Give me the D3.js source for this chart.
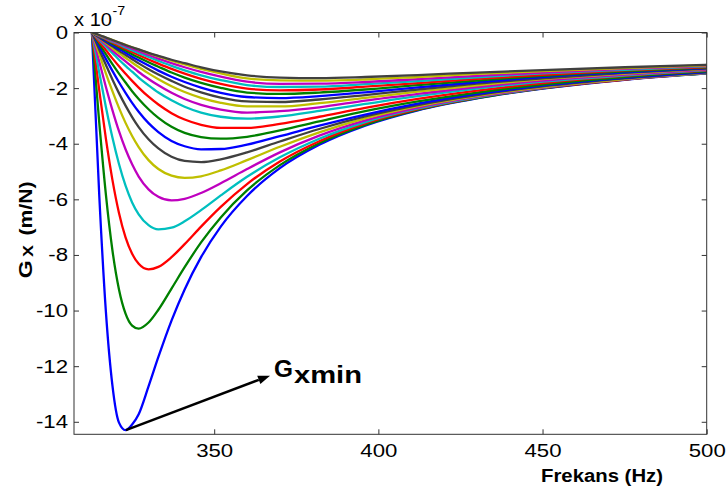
<!DOCTYPE html>
<html><head><meta charset="utf-8">
<script src="https://cdn.jsdelivr.net/npm/d3@7"></script>
<style>html,body{margin:0;padding:0;background:#fff;overflow:hidden}text{font-family:"Liberation Sans",Arial,sans-serif;fill:#000}</style>
</head><body><svg id="chart" width="727" height="491"></svg>
<script>
// Frequency samples (Hz)
const freq = [312.75, 315, 317, 319, 321, 323, 325, 327, 330, 333, 337, 341, 346, 352, 360, 370, 382, 396, 412, 430, 450, 475, 500];
// Gx values (x 1e-7 m/N), one array per curve, deepest first
const c01 = [0, -5.88, -10.02, -12.69, -14.03, -14.30, -14.10, -13.73, -12.73, -11.67, -10.36, -9.24, -8.08, -6.98, -5.88, -4.88, -4.04, -3.35, -2.80, -2.37, -2.02, -1.70, -1.47];
const c02 = [0, -3.25, -5.81, -7.83, -9.24, -10.11, -10.54, -10.65, -10.43, -9.97, -9.21, -8.44, -7.55, -6.65, -5.68, -4.77, -3.98, -3.32, -2.78, -2.36, -2.01, -1.69, -1.47];
const c03 = [0, -2.09, -3.81, -5.30, -6.49, -7.37, -7.96, -8.32, -8.52, -8.43, -8.08, -7.61, -6.98, -6.27, -5.45, -4.64, -3.91, -3.27, -2.76, -2.34, -2.00, -1.69, -1.46];
const c04 = [0, -1.45, -2.67, -3.78, -4.73, -5.51, -6.11, -6.54, -6.93, -7.08, -7.02, -6.79, -6.39, -5.86, -5.19, -4.49, -3.82, -3.22, -2.73, -2.33, -1.99, -1.68, -1.46];
const c05 = [0, -1.05, -1.95, -2.79, -3.55, -4.20, -4.74, -5.18, -5.64, -5.91, -6.04, -5.98, -5.77, -5.42, -4.91, -4.31, -3.71, -3.16, -2.70, -2.31, -1.98, -1.68, -1.45];
const c06 = [0, -0.78, -1.47, -2.11, -2.71, -3.25, -3.72, -4.12, -4.59, -4.91, -5.15, -5.23, -5.17, -4.96, -4.59, -4.11, -3.59, -3.09, -2.65, -2.28, -1.96, -1.67, -1.44];
const c07 = [0, -0.62, -1.16, -1.69, -2.18, -2.63, -3.04, -3.40, -3.84, -4.17, -4.47, -4.62, -4.66, -4.56, -4.31, -3.92, -3.47, -3.02, -2.61, -2.25, -1.94, -1.65, -1.43];
const c08 = [0, -0.50, -0.95, -1.38, -1.79, -2.17, -2.53, -2.85, -3.26, -3.58, -3.90, -4.09, -4.20, -4.19, -4.03, -3.73, -3.35, -2.95, -2.56, -2.21, -1.91, -1.63, -1.42];
const c09 = [0, -0.41, -0.78, -1.14, -1.48, -1.80, -2.11, -2.39, -2.76, -3.07, -3.39, -3.61, -3.76, -3.82, -3.75, -3.52, -3.20, -2.83, -2.48, -2.16, -1.87, -1.60, -1.40];
const c10 = [0, -0.34, -0.63, -0.93, -1.21, -1.48, -1.74, -1.98, -2.31, -2.59, -2.90, -3.13, -3.32, -3.43, -3.43, -3.29, -3.03, -2.71, -2.39, -2.09, -1.82, -1.56, -1.37];
const c11 = [0, -0.27, -0.51, -0.74, -0.98, -1.20, -1.41, -1.62, -1.90, -2.16, -2.44, -2.67, -2.88, -3.03, -3.10, -3.02, -2.82, -2.57, -2.29, -2.02, -1.77, -1.54, -1.35];
const c12 = [0, -0.23, -0.44, -0.65, -0.85, -1.04, -1.23, -1.42, -1.67, -1.90, -2.17, -2.39, -2.60, -2.77, -2.88, -2.83, -2.69, -2.45, -2.21, -1.96, -1.73, -1.51, -1.33];
const c13 = [0, -0.20, -0.38, -0.56, -0.74, -0.91, -1.08, -1.24, -1.47, -1.68, -1.93, -2.14, -2.35, -2.53, -2.66, -2.66, -2.54, -2.35, -2.13, -1.90, -1.68, -1.48, -1.31];
const c14 = [0, -0.18, -0.34, -0.50, -0.66, -0.81, -0.96, -1.11, -1.32, -1.51, -1.74, -1.95, -2.15, -2.34, -2.48, -2.50, -2.41, -2.25, -2.05, -1.84, -1.65, -1.45, -1.30];
const c15 = [0, -0.16, -0.31, -0.45, -0.59, -0.73, -0.87, -1.00, -1.19, -1.37, -1.59, -1.78, -1.98, -2.17, -2.32, -2.36, -2.29, -2.15, -1.97, -1.79, -1.60, -1.43, -1.28];
const c16 = [0, -0.14, -0.27, -0.40, -0.53, -0.65, -0.78, -0.90, -1.07, -1.23, -1.44, -1.62, -1.81, -1.99, -2.16, -2.21, -2.16, -2.05, -1.89, -1.73, -1.56, -1.40, -1.26];
const c17 = [0, -0.13, -0.25, -0.36, -0.48, -0.59, -0.70, -0.81, -0.97, -1.12, -1.31, -1.48, -1.67, -1.85, -2.02, -2.08, -2.05, -1.95, -1.82, -1.67, -1.52, -1.36, -1.24];
const c18 = [0, -0.12, -0.22, -0.33, -0.43, -0.54, -0.64, -0.74, -0.88, -1.02, -1.20, -1.36, -1.54, -1.71, -1.89, -1.96, -1.95, -1.86, -1.75, -1.61, -1.47, -1.34, -1.22];
const c19 = [0, -0.11, -0.20, -0.30, -0.39, -0.49, -0.58, -0.67, -0.81, -0.94, -1.10, -1.25, -1.42, -1.59, -1.77, -1.85, -1.84, -1.78, -1.68, -1.56, -1.44, -1.31, -1.20];
const c20 = [0, -0.10, -0.18, -0.27, -0.36, -0.44, -0.53, -0.61, -0.74, -0.86, -1.01, -1.15, -1.31, -1.47, -1.65, -1.72, -1.73, -1.69, -1.60, -1.49, -1.39, -1.28, -1.18];
const c21 = [0, -0.09, -0.18, -0.27, -0.36, -0.45, -0.53, -0.61, -0.73, -0.84, -0.98, -1.10, -1.25, -1.40, -1.54, -1.62, -1.64, -1.60, -1.53, -1.44, -1.35, -1.25, -1.16];
const series = [c01, c02, c03, c04, c05, c06, c07, c08, c09, c10, c11, c12, c13, c14, c15, c16, c17, c18, c19, c20, c21];
const colors = ["#0000ff", "#008000", "#ff0000", "#00bfbf", "#bf00bf", "#bfbf00", "#404040"];
const xTicks = [350, 400, 450, 500];
const yTicks = [0, -2, -4, -6, -8, -10, -12, -14];
const xDomain = [307.3, 500];
const yDomain = [-14.45, 0];
const arrowFrom = [323.1, -14.3];
const arrowTo = [367.0, -12.34];

const svg = d3.select("#chart");
const M = {l: 74, r: 706.7, t: 32.5, b: 434.3};
const x = d3.scaleLinear().domain(xDomain).range([M.l, M.r]);
const y = d3.scaleLinear().domain(yDomain).range([M.b, M.t]);
const FS = 18.5, SX = 1.2;

svg.append("rect").attr("width", 727).attr("height", 491).attr("fill", "#fff");

svg.append("clipPath").attr("id", "clip").append("rect")
  .attr("x", M.l).attr("y", M.t).attr("width", M.r - M.l).attr("height", M.b - M.t);

// curves
const line = d3.line().x((d, i) => x(freq[i])).y(d => y(d)).curve(d3.curveMonotoneX);
svg.append("g").attr("clip-path", "url(#clip)")
  .selectAll("path").data(series).join("path")
  .attr("d", line).attr("fill", "none")
  .attr("stroke", (d, i) => colors[i % colors.length])
  .attr("stroke-width", 2.3).attr("stroke-linejoin", "round");

// axes
const fmt = d => String(d);
const gB = svg.append("g").attr("transform", `translate(0,${M.b})`)
  .call(d3.axisBottom(x).tickValues(xTicks).tickSizeInner(-5).tickSizeOuter(0).tickPadding(10).tickFormat(fmt));
const gL = svg.append("g").attr("transform", `translate(${M.l},0)`)
  .call(d3.axisLeft(y).tickValues(yTicks).tickSizeInner(-5).tickSizeOuter(0).tickPadding(5).tickFormat(fmt));
const gT = svg.append("g").attr("transform", `translate(0,${M.t})`)
  .call(d3.axisTop(x).tickValues(xTicks).tickSizeInner(-5).tickSizeOuter(0).tickFormat(""));
const gR = svg.append("g").attr("transform", `translate(${M.r},0)`)
  .call(d3.axisRight(y).tickValues(yTicks).tickSizeInner(-5).tickSizeOuter(0).tickFormat(""));
[gB, gL, gT, gR].forEach(g => {
  g.select(".domain").remove();
  g.selectAll(".tick line").attr("stroke", "#333");
  g.selectAll(".tick text").attr("font-size", FS).attr("fill", "#000")
    .attr("font-family", "Liberation Sans, Arial, sans-serif")
    .attr("transform", `scale(${SX},1)`);
});
svg.append("rect").attr("x", M.l).attr("y", M.t).attr("width", M.r - M.l).attr("height", M.b - M.t)
  .attr("fill", "none").attr("stroke", "#333").attr("stroke-width", 1);

// exponent label
svg.append("text").attr("x", M.l).attr("y", 26).attr("font-size", 18)
  .attr("textLength", 38).attr("lengthAdjust", "spacingAndGlyphs").text("x 10");
svg.append("text").attr("x", 112.5).attr("y", 15).attr("font-size", 13)
  .attr("textLength", 12.7).attr("lengthAdjust", "spacingAndGlyphs").text("-7");

// y label
const yl = svg.append("g").attr("transform", "translate(31.5,0) rotate(-90)").attr("font-weight", "bold");
yl.append("text").attr("x", -278.3).attr("y", 0).attr("font-size", 19)
  .attr("textLength", 18).attr("lengthAdjust", "spacingAndGlyphs").text("G");
yl.append("text").attr("x", -257).attr("y", 1.5).attr("font-size", 14)
  .attr("textLength", 12).attr("lengthAdjust", "spacingAndGlyphs").text("X");
yl.append("text").attr("x", -235.5).attr("y", 0).attr("font-size", 19)
  .attr("textLength", 54).attr("lengthAdjust", "spacingAndGlyphs").text("(m/N)");

// x label
svg.append("text").attr("x", 541).attr("y", 482).attr("font-size", 18).attr("font-weight", "bold")
  .attr("textLength", 122).attr("lengthAdjust", "spacingAndGlyphs").text("Frekans (Hz)");

// annotation arrow
const x0 = x(arrowFrom[0]), y0 = y(arrowFrom[1]), x1 = x(arrowTo[0]), y1 = y(arrowTo[1]);
const ang = Math.atan2(y1 - y0, x1 - x0), L = 12, W = 4.5;
const bx = x1 - L * Math.cos(ang), by = y1 - L * Math.sin(ang);
svg.append("line").attr("x1", x0).attr("y1", y0).attr("x2", bx).attr("y2", by)
  .attr("stroke", "#000").attr("stroke-width", 2.5);
svg.append("polygon").attr("fill", "#000").attr("points", [
  [x1, y1],
  [bx + W * Math.sin(ang), by - W * Math.cos(ang)],
  [bx - W * Math.sin(ang), by + W * Math.cos(ang)]
].map(p => p.join(",")).join(" "));
svg.append("text").attr("x", x1 + 4).attr("y", 376.5).attr("font-size", 23).attr("font-weight", "bold")
  .attr("textLength", 19).attr("lengthAdjust", "spacingAndGlyphs").text("G");
svg.append("text").attr("x", x1 + 24).attr("y", 382.5).attr("font-size", 23).attr("font-weight", "bold")
  .attr("textLength", 68).attr("lengthAdjust", "spacingAndGlyphs").text("xmin");
</script></body></html>
